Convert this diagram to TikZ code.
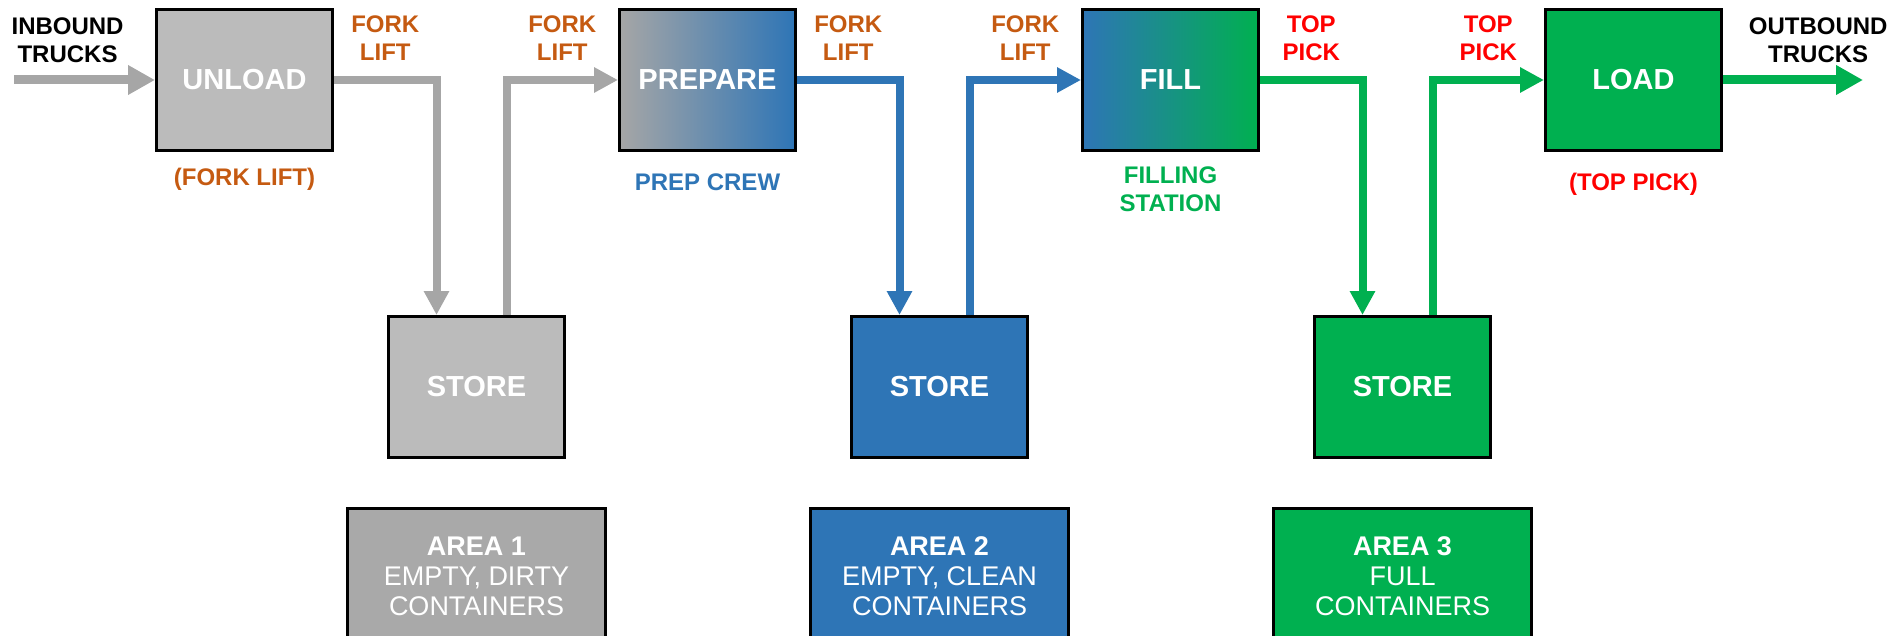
\documentclass[tikz,border=0pt]{standalone}
\usepackage{fontspec}
\setmainfont{Liberation Sans}
\usetikzlibrary{arrows.meta,positioning}
\definecolor{cgray}{HTML}{A6A6A6}
\definecolor{boxgray}{HTML}{BBBBBB}
\definecolor{areagray}{HTML}{A9A9A9}
\definecolor{cblue}{HTML}{2E75B6}
\definecolor{cgreen}{HTML}{00B050}
\definecolor{corange}{HTML}{C55A11}
\definecolor{cred}{HTML}{FF0000}

\begin{document}
\begin{tikzpicture}[>={Triangle[length=12pt,width=12pt]},node distance=142pt,
  proc/.style={draw,line width=1.5pt,minimum width=88pt,minimum height=70.5pt,text=white,font=\bfseries\fontsize{14.5}{17}\selectfont},
  area/.style={draw,line width=1.5pt,minimum width=129pt,minimum height=68pt,text=white,align=center,font=\fontsize{13.5}{15}\selectfont},
  lbl/.style={font=\bfseries\fontsize{12}{14}\selectfont,align=center,inner sep=0pt},
  flow/.style={line width=4pt,->},
  big/.style={line width=4.5pt,-{Triangle[length=13.5pt,width=14pt]}}]
  \useasboundingbox (0,0) rectangle (952pt,-318pt);
  % process row
  \node[proc,fill=boxgray,anchor=north west](unload) at (77.5pt,-4pt){UNLOAD};
  \node[proc,left color=cgray,right color=cblue,right=of unload](prep){PREPARE};
  \node[proc,left color=cblue,right color=cgreen,right=of prep](fillst){FILL};
  \node[proc,fill=cgreen,right=of fillst](load){LOAD};
  \node[lbl,text=corange,below=8pt of unload](unlab){(FORK LIFT)};
  \node[lbl,text=cblue,below=10.5pt of prep](preplab){PREP CREW};
  \node[lbl,text=cgreen,below=7pt of fillst](filllab){FILLING\\STATION};
  \node[lbl,text=cred,below=10.5pt of load](loadlab){(TOP PICK)};
  % store row
  \node[proc,fill=boxgray,below right=81.5pt and 26.5pt of unload](st1){STORE};
  \node[proc,fill=cblue,below right=81.5pt and 26.5pt of prep](st2){STORE};
  \node[proc,fill=cgreen,below right=81.5pt and 26.5pt of fillst](st3){STORE};
  % areas
  \node[area,fill=areagray,below=24pt of st1](ar1){\textbf{AREA 1}\\EMPTY, DIRTY\\CONTAINERS};
  \node[area,fill=cblue,below=24pt of st2](ar2){\textbf{AREA 2}\\EMPTY, CLEAN\\CONTAINERS};
  \node[area,fill=cgreen,below=24pt of st3](ar3){\textbf{AREA 3}\\FULL\\CONTAINERS};
  % trucks in and out
  \coordinate[left=70.5pt of unload.west](in);
  \coordinate[right=70pt of load.east](out);
  \draw[big,cgray](in)--(unload.west) node[lbl,pos=.38,above=6.5pt,text=black](inlab){INBOUND\\TRUCKS};
  \draw[big,cgreen](load.east)--(out) node[lbl,pos=.68,above=6.5pt,text=black](outlab){OUTBOUND\\TRUCKS};
  % flows through the stores
  \draw[flow,cgray](unload.east)-|([xshift=-20pt]st1.north) node[lbl,pos=.25,above=7.5pt,text=corange](f1){FORK\\LIFT};
  \draw[flow,cgray]([xshift=15pt]st1.north)|-(prep.west) node[lbl,pos=.75,above=7.5pt,text=corange](f2){FORK\\LIFT};
  \draw[flow,cblue](prep.east)-|([xshift=-20pt]st2.north) node[lbl,pos=.25,above=7.5pt,text=corange](f3){FORK\\LIFT};
  \draw[flow,cblue]([xshift=15pt]st2.north)|-(fillst.west) node[lbl,pos=.75,above=7.5pt,text=corange](f4){FORK\\LIFT};
  \draw[flow,cgreen](fillst.east)-|([xshift=-20pt]st3.north) node[lbl,pos=.25,above=7.5pt,text=cred](t1){TOP\\PICK};
  \draw[flow,cgreen]([xshift=15pt]st3.north)|-(load.west) node[lbl,pos=.75,above=7.5pt,text=cred](t2){TOP\\PICK};
\end{tikzpicture}
\end{document}
